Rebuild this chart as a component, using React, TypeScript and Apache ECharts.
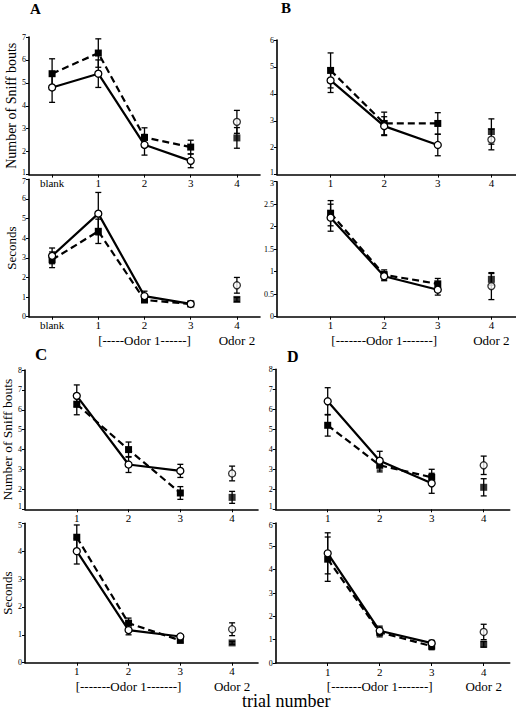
import React, { useEffect, useRef } from "react";
import * as echarts from "echarts";

// ---------- data ----------
const aXLabels = ["blank", "1", "2", "3", "4"];
const xLabels = ["1", "2", "3", "4"];
const aX = [0, 1, 2, 3, 4];
const bX = [1, 2, 3, 4];
const odorX = [2, 4];

// Panel A
const aSniffCircle = [4.8, 5.4, 2.3, 1.6, 3.3];
const aSniffCircleErr = [0.65, 0.6, 0.45, 0.3, 0.5];
const aSniffSquare = [5.4, 6.3, 2.62, 2.2, 2.6];
const aSniffSquareErr = [0.65, 0.62, 0.42, 0.3, 0.45];
const aSecCircle = [3.1, 5.25, 1.05, 0.65, 1.6];
const aSecCircleErr = [0.4, 1.08, 0.25, 0.05, 0.4];
const aSecSquare = [2.9, 4.35, 0.85, 0.65, 0.88];
const aSecSquareErr = [0.4, 0.62, 0.12, 0.05, 0.1];

// Panel B
const bSniffCircle = [4.5, 2.8, 2.1, 2.3];
const bSniffCircleErr = [0.45, 0.35, 0.4, 0.38];
const bSniffSquare = [4.87, 2.9, 2.9, 2.6];
const bSniffSquareErr = [0.65, 0.42, 0.4, 0.47];
const bSecCircle = [2.2, 0.9, 0.6, 0.68];
const bSecCircleErr = [0.3, 0.1, 0.12, 0.3];
const bSecSquare = [2.3, 0.93, 0.73, 0.83];
const bSecSquareErr = [0.28, 0.11, 0.12, 0.13];

// Panel C
const cSniffCircle = [6.7, 3.25, 2.93, 2.8];
const cSniffCircleErr = [0.55, 0.4, 0.33, 0.37];
const cSniffSquare = [6.28, 4.0, 1.82, 1.6];
const cSniffSquareErr = [0.53, 0.38, 0.32, 0.3];
const cSecCircle = [4.0, 1.17, 0.94, 1.2];
const cSecCircleErr = [0.46, 0.17, 0.05, 0.23];
const cSecSquare = [4.5, 1.42, 0.8, 0.71];
const cSecSquareErr = [0.44, 0.18, 0.06, 0.05];

// Panel D
const dSniffCircle = [6.4, 3.43, 2.3, 3.2];
const dSniffCircleErr = [0.68, 0.47, 0.5, 0.46];
const dSniffSquare = [5.2, 3.2, 2.6, 2.1];
const dSniffSquareErr = [0.54, 0.33, 0.4, 0.43];
const dSecCircle = [4.7, 1.38, 0.85, 1.33];
const dSecCircleErr = [0.88, 0.2, 0.12, 0.33];
const dSecSquare = [4.45, 1.32, 0.72, 0.8];
const dSecSquareErr = [0.95, 0.2, 0.15, 0.12];

const odorLabelsA = ["[-----Odor 1------]", "Odor 2"];
const odorLabels = ["[-------Odor 1-------]", "Odor 2"];

const FONT = "'Liberation Serif', 'DejaVu Serif', serif";

// ---------- helpers ----------
function errSeries(gi: number, xs: number[], vals: number[], errs: number[]) {
  return {
    type: "custom",
    xAxisIndex: gi,
    yAxisIndex: gi,
    z: 1,
    silent: true,
    data: xs.map((x, i) => [x, vals[i] - errs[i], vals[i] + errs[i]]),
    encode: { x: 0, y: [1, 2] },
    renderItem: (params: any, api: any) => {
      const x = api.value(0);
      const p1 = api.coord([x, api.value(1)]);
      const p2 = api.coord([x, api.value(2)]);
      const w = 3;
      const st = { stroke: "#000", lineWidth: 1.3 };
      return {
        type: "group",
        children: [
          { type: "line", shape: { x1: p1[0], y1: p1[1], x2: p2[0], y2: p2[1] }, style: st },
          { type: "line", shape: { x1: p1[0] - w, y1: p1[1], x2: p1[0] + w, y2: p1[1] }, style: st },
          { type: "line", shape: { x1: p2[0] - w, y1: p2[1], x2: p2[0] + w, y2: p2[1] }, style: st },
        ],
      };
    },
  };
}

function panelSeries(
  gi: number,
  xs: number[],
  circ: number[],
  circErr: number[],
  sq: number[],
  sqErr: number[]
) {
  const n = xs.length - 1; // last point (odor 2) not connected
  const circleSym = {
    symbol: "circle",
    symbolSize: 7,
    itemStyle: { color: "#fff", borderColor: "#000", borderWidth: 1.3 },
  };
  const squareSym = {
    symbol: "rect",
    symbolSize: 7,
    itemStyle: { color: "#000", borderColor: "#000", borderWidth: 0 },
  };
  return [
    errSeries(gi, xs, circ, circErr),
    errSeries(gi, xs, sq, sqErr),
    {
      type: "line",
      xAxisIndex: gi,
      yAxisIndex: gi,
      z: 2,
      data: xs.slice(0, n).map((x, i) => [x, sq[i]]),
      lineStyle: { color: "#000", width: 2.2, type: [7, 4] },
      ...squareSym,
    },
    {
      type: "line",
      xAxisIndex: gi,
      yAxisIndex: gi,
      z: 3,
      data: xs.slice(0, n).map((x, i) => [x, circ[i]]),
      lineStyle: { color: "#000", width: 2.2 },
      ...circleSym,
    },
    {
      type: "scatter",
      xAxisIndex: gi,
      yAxisIndex: gi,
      z: 2,
      data: [[xs[n], sq[n]]],
      ...squareSym,
    },
    {
      type: "scatter",
      xAxisIndex: gi,
      yAxisIndex: gi,
      z: 3,
      data: [[xs[n], circ[n]]],
      ...circleSym,
    },
  ];
}

function xAxisDef(gi: number, min: number, max: number, xs: number[], labels: string[]) {
  return {
    type: "value",
    gridIndex: gi,
    min,
    max,
    axisLine: { show: true, onZero: false, lineStyle: { color: "#000", width: 1.6 } },
    axisTick: { show: true, length: 3, lineStyle: { color: "#000", width: 1 }, customValues: xs },
    splitLine: { show: false },
    axisLabel: {
      customValues: xs,
      hideOverlap: false,
      showMinLabel: true,
      showMaxLabel: true,
      margin: 3,
      color: "#000",
      fontFamily: FONT,
      fontSize: 11,
      formatter: (v: number) => {
        const i = xs.indexOf(v);
        return i < 0 ? "" : labels[i];
      },
    },
  };
}

function odorAxisDef(gi: number, min: number, max: number, labels: string[]) {
  return {
    type: "value",
    gridIndex: gi,
    position: "bottom",
    offset: 14,
    min,
    max,
    axisLine: { show: false, onZero: false },
    axisTick: { show: false },
    splitLine: { show: false },
    axisLabel: {
      customValues: odorX,
      hideOverlap: false,
      margin: 3,
      color: "#000",
      fontFamily: FONT,
      fontSize: 13,
      formatter: (v: number) => {
        const i = odorX.indexOf(v);
        return i < 0 ? "" : labels[i];
      },
    },
  };
}

// isTop: the upper plot of a pair (its lowest label sits a little higher);
// otherwise the lower plot (its highest label sits a little lower)
function yAxisDef(
  gi: number,
  min: number,
  max: number,
  interval: number,
  name: string,
  nameGap: number,
  nameSize: number,
  isTop: boolean
) {
  return {
    type: "value",
    gridIndex: gi,
    min,
    max,
    interval,
    name,
    nameLocation: "middle",
    nameGap,
    nameTextStyle: { fontFamily: FONT, fontSize: nameSize, color: "#000" },
    axisLine: { show: true, onZero: false, lineStyle: { color: "#000", width: 1.6 } },
    axisTick: { show: true, length: 3, lineStyle: { color: "#000", width: 1 } },
    splitLine: { show: false },
    axisLabel: {
      fontFamily: FONT,
      fontSize: 8,
      color: "#000",
      margin: 3,
      formatter: (v: number) => {
        if (isTop && v === min) return `{lo|${v}}`;
        if (!isTop && v === max) return `{hi|${v}}`;
        return `{n|${v}}`;
      },
      rich: {
        n: { fontFamily: FONT, fontSize: 8, color: "#000" },
        lo: { fontFamily: FONT, fontSize: 8, color: "#000", padding: [0, 0, 5, 0] },
        hi: { fontFamily: FONT, fontSize: 8, color: "#000", padding: [4, 0, 0, 0] },
      },
    },
  };
}

export default function App() {
  const ref = useRef<HTMLDivElement>(null);
  useEffect(() => {
    if (!ref.current) return;
    const chart = echarts.init(ref.current, null, { renderer: "svg" });
    const grids = [
      { left: 29, top: 37, width: 231, height: 137.6 },
      { left: 29, top: 179.3, width: 231, height: 137.4 },
      { left: 277, top: 40, width: 238.5, height: 134.6 },
      { left: 277, top: 181.7, width: 238.5, height: 135 },
      { left: 25, top: 370, width: 233, height: 139.3 },
      { left: 25, top: 523.3, width: 233, height: 139.4 },
      { left: 275.7, top: 369.3, width: 234, height: 140 },
      { left: 275.7, top: 523, width: 234, height: 140 },
    ].map((g) => ({ ...g, outerBoundsMode: "none", containLabel: false }));

    const option: any = {
      animation: false,
      backgroundColor: "#fff",
      textStyle: { fontFamily: FONT },
      grid: grids,
      xAxis: [
        xAxisDef(0, -0.5, 4.5, aX, aXLabels),
        xAxisDef(1, -0.5, 4.5, aX, aXLabels),
        xAxisDef(2, 0, 4.45, bX, xLabels),
        xAxisDef(3, 0, 4.45, bX, xLabels),
        xAxisDef(4, 0, 4.5, bX, xLabels),
        xAxisDef(5, 0, 4.5, bX, xLabels),
        xAxisDef(6, 0, 4.5, bX, xLabels),
        xAxisDef(7, 0, 4.5, bX, xLabels),
        odorAxisDef(1, -0.5, 4.5, odorLabelsA),
        odorAxisDef(3, 0, 4.45, odorLabels),
        odorAxisDef(5, 0, 4.5, odorLabels),
        odorAxisDef(7, 0, 4.5, odorLabels),
      ],
      yAxis: [
        yAxisDef(0, 1, 7, 1, "Number of Sniff bouts", 11, 14, true),
        yAxisDef(1, 0, 7, 1, "Seconds", 11, 13, false),
        yAxisDef(2, 1, 6, 1, "", 10, 13, true),
        yAxisDef(3, 0, 3, 0.5, "", 10, 13, false),
        yAxisDef(4, 1, 8, 1, "Number of Sniff bouts", 9, 13.5, true),
        yAxisDef(5, 0, 5, 1, "Seconds", 9, 13, false),
        yAxisDef(6, 1, 8, 1, "", 10, 13, true),
        yAxisDef(7, 0, 6, 1, "", 10, 13, false),
      ],
      series: [
        ...panelSeries(0, aX, aSniffCircle, aSniffCircleErr, aSniffSquare, aSniffSquareErr),
        ...panelSeries(1, aX, aSecCircle, aSecCircleErr, aSecSquare, aSecSquareErr),
        ...panelSeries(2, bX, bSniffCircle, bSniffCircleErr, bSniffSquare, bSniffSquareErr),
        ...panelSeries(3, bX, bSecCircle, bSecCircleErr, bSecSquare, bSecSquareErr),
        ...panelSeries(4, bX, cSniffCircle, cSniffCircleErr, cSniffSquare, cSniffSquareErr),
        ...panelSeries(5, bX, cSecCircle, cSecCircleErr, cSecSquare, cSecSquareErr),
        ...panelSeries(6, bX, dSniffCircle, dSniffCircleErr, dSniffSquare, dSniffSquareErr),
        ...panelSeries(7, bX, dSecCircle, dSecCircleErr, dSecSquare, dSecSquareErr),
      ],
      graphic: [
        { type: "text", left: 30, top: 1, style: { text: "A", font: `bold 15px ${FONT}`, fill: "#000" } },
        { type: "text", left: 281, top: 0, style: { text: "B", font: `bold 15px ${FONT}`, fill: "#000" } },
        { type: "text", left: 35, top: 346, style: { text: "C", font: `bold 17px ${FONT}`, fill: "#000" } },
        { type: "text", left: 287, top: 348, style: { text: "D", font: `bold 16px ${FONT}`, fill: "#000" } },
        { type: "text", left: 242, top: 692, style: { text: "trial number", font: `18px ${FONT}`, fill: "#000" } },
      ],
    };
    chart.setOption(option);
    return () => chart.dispose();
  }, []);
  return (
    <div
      ref={ref}
      style={{ position: "fixed", left: 0, top: 0, width: 516, height: 711, background: "#fff" }}
    />
  );
}
